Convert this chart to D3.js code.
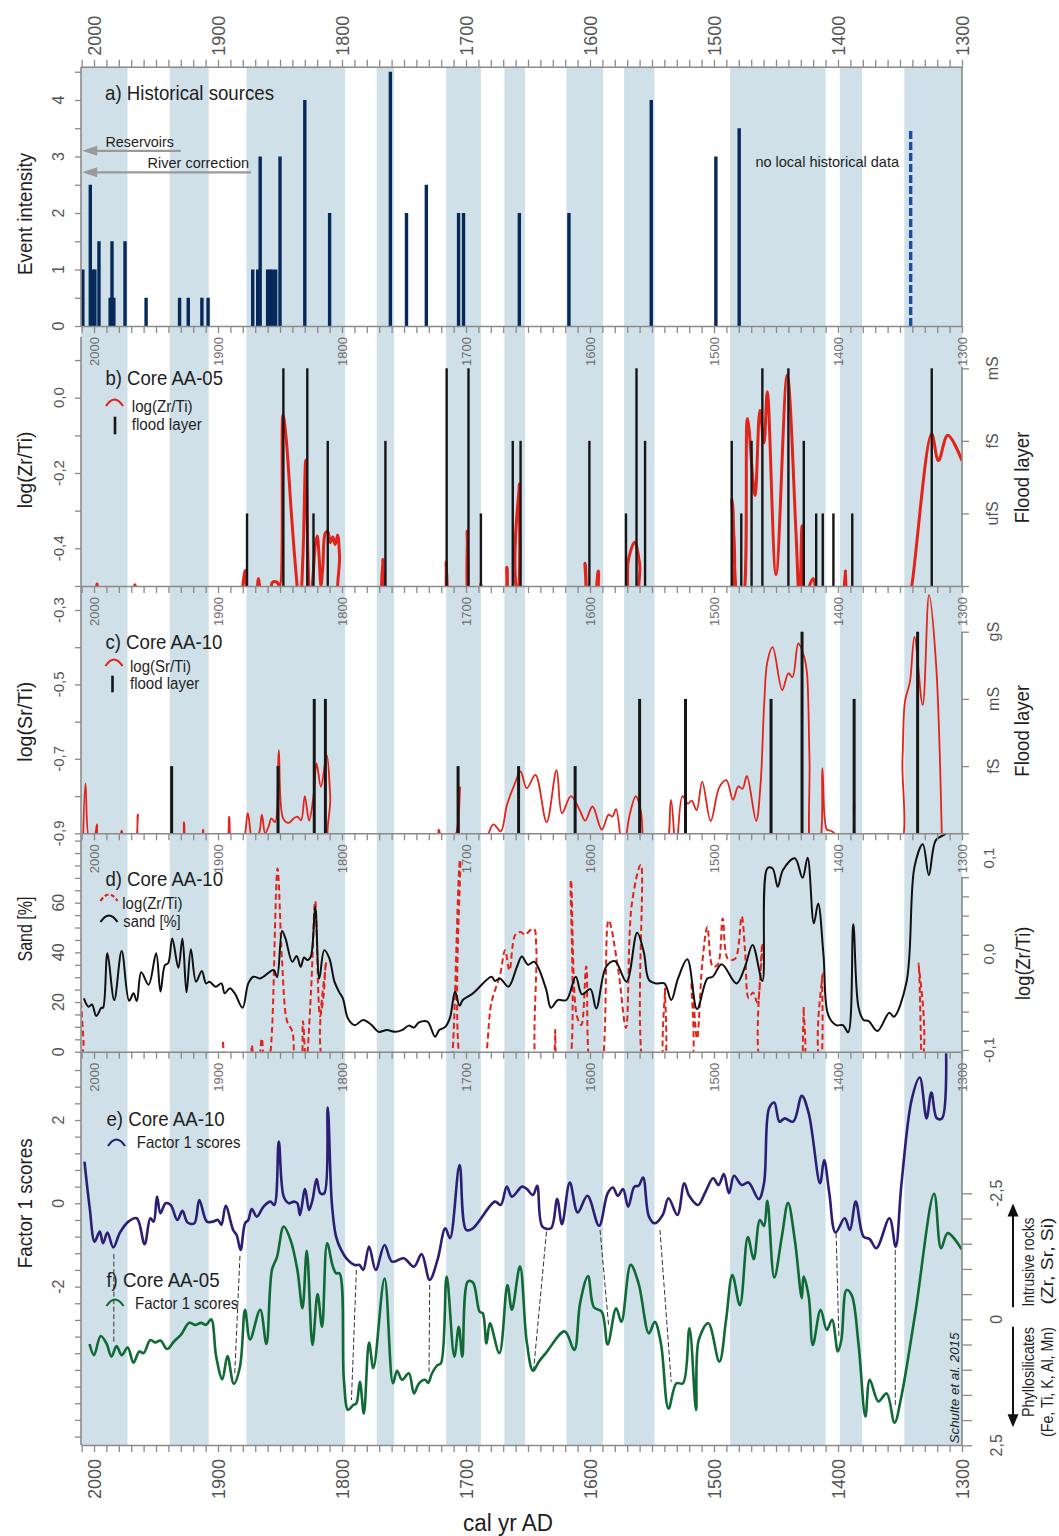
<!DOCTYPE html>
<html><head><meta charset="utf-8">
<script src="https://cdn.jsdelivr.net/npm/d3@7"></script>
<style>body{margin:0;background:#fff}svg{display:block}text{font-family:"Liberation Sans",Arial,sans-serif}</style>
</head><body><svg id="c" width="1059" height="1536"></svg>
<script>
// ---------------- DATA ----------------
const bands = [[2010.5,1973],[1939,1907.5],[1877,1797.5],[1772,1758],[1716,1688],[1669,1652.5],[1619,1589.5],[1572.5,1548],[1487,1410],[1398.5,1380.5],[1346.5,1300]];
const centuries = [2000,1900,1800,1700,1600,1500,1400,1300];

// a) historical events
const eventYears = [2009,2003,2000.6,1999.3,1996,1987,1985.5,1984,1975,1958,1931,1924,1913,1908,1872,1868,1866,1860,1858,1856,1853.5,1850,1830,1810,1761,1748,1732,1706,1702,1657,1617,1550.6,1498.5,1479.7];
const eventIntensity = [1,2.5,1,1,1.5,0.5,1.5,0.5,1.5,0.5,0.5,0.5,0.5,0.5,1,1,3,1,1,1,1,3,4,2,4.5,2,2.5,2,2,2,2,4,3,3.5];
const uncertainEventYears = [1341.4];
const uncertainEventIntensity = [3.5];

// b) Core AA-05 log(Zr/Ti) and flood layers (1=ufS,2=fS,3=mS)
const zrTiB = [[2011,-0.56],[2000,-0.56],[1997.5,-0.495],[1995,-0.56],[1970,-0.56],[1967,-0.497],[1964,-0.56],
[1884,-0.56],[1881,-0.52],[1878,-0.459],[1875.5,-0.53],[1870,-0.53],[1867.4,-0.48],[1864.5,-0.53],[1858,-0.51],[1856,-0.49],[1852.5,-0.49],[1850.3,-0.5],[1847.6,-0.045],[1845,-0.11],[1841,-0.3],[1837.5,-0.45],[1834,-0.56],[1831.5,-0.42],[1829.3,-0.166],[1827.5,-0.42],[1826,-0.56],[1823.5,-0.48],[1821.5,-0.39],[1820,-0.367],[1818.5,-0.42],[1817,-0.5],[1815.5,-0.45],[1813.5,-0.36],[1811.5,-0.355],[1809.5,-0.385],[1807.5,-0.37],[1805.5,-0.39],[1803.5,-0.365],[1802,-0.42],[1800.5,-0.56],
[1770,-0.56],[1767,-0.43],[1764.3,-0.56],[1719,-0.56],[1716,-0.437],[1713.3,-0.56],[1702,-0.56],[1699,-0.354],[1696.3,-0.56],[1690,-0.56],[1688,-0.495],[1686,-0.56],[1670,-0.56],[1667,-0.45],[1664.5,-0.56],[1660,-0.56],[1657,-0.229],[1653.8,-0.56],
[1607,-0.56],[1604,-0.44],[1601,-0.56],[1596,-0.53],[1593.3,-0.46],[1590.5,-0.56],
[1573,-0.56],[1569,-0.43],[1564,-0.384],[1560,-0.44],[1557,-0.56],
[1491,-0.56],[1485.5,-0.269],[1480,-0.56],[1477.5,-0.56],[1473,-0.055],[1467,-0.26],[1463,-0.033],[1459.7,-0.12],[1457,0.016],[1450,-0.47],[1441,0.06],[1434,-0.35],[1431,-0.56],[1429,-0.34],[1426.5,-0.56],[1423,-0.5],[1420,-0.48],[1417,-0.53],[1414,-0.56],
[1396,-0.56],[1394,-0.46],[1392,-0.56],
[1344,-0.56],[1340.5,-0.5],[1324.5,-0.096],[1319,-0.167],[1311.5,-0.10],[1300,-0.167]];
const floodB = [[1876.6,1],[1847.3,3],[1828,3],[1823,1],[1811.5,2],[1765,2],[1715.6,3],[1698,3],[1688,1],[1662.3,2],[1656,2],[1600.5,2],[1571,1],[1562.5,3],[1555.6,2],[1485.7,2],[1478,1],[1469.7,2],[1461,3],[1440,3],[1427.6,2],[1417.6,1],[1412.3,1],[1403.7,1],[1388.5,1],[1324.4,3]];
const floodBLabels = ["", "ufS", "fS", "mS"];

// c) Core AA-10 log(Sr/Ti) and flood layers (1=fS,2=mS,3=gS)
const srTiC = [[2009,-0.95],[2006.9,-0.766],[2003.6,-0.92],[1999,-0.9],[1997.6,-0.876],[1996,-0.92],[1980,-0.92],[1977.7,-0.893],[1975.5,-0.92],[1967,-0.92],[1964.7,-0.849],[1962.5,-0.93],[1930,-0.93],[1927.4,-0.87],[1925,-0.93],[1914,-0.93],[1912,-0.89],[1910.5,-0.93],[1894,-0.93],[1891,-0.855],[1888.5,-0.93],[1880,-0.92],[1876,-0.846],[1872,-0.92],[1867,-0.9],[1864.6,-0.85],[1862,-0.9],[1859,-0.88],[1857,-0.86],[1854,-0.87],[1851,-0.676],[1847.5,-0.86],[1843,-0.872],[1839,-0.86],[1836,-0.855],[1833,-0.865],[1830,-0.80],[1826.6,-0.866],[1823,-0.8],[1820.5,-0.712],[1817,-0.775],[1812.3,-0.69],[1809.5,-0.8],[1807.4,-0.95],
[1725,-0.95],[1722,-0.89],[1719,-0.92],[1712,-0.91],[1708,-0.9],[1705,-0.775],[1702.5,-0.95],[1686,-0.93],[1678,-0.876],[1672,-0.895],[1667,-0.824],[1661,-0.77],[1656,-0.734],[1651,-0.779],[1644,-0.743],[1635,-0.87],[1627,-0.73],[1622.6,-0.846],[1615.4,-0.80],[1608,-0.84],[1603.8,-0.866],[1598,-0.828],[1590.5,-0.89],[1585,-0.85],[1582,-0.855],[1579,-0.835],[1573.4,-0.95],[1568,-0.85],[1563,-0.80],[1559,-0.84],[1554,-0.95],[1540,-0.95],[1534.7,-0.81],[1530.6,-0.95],[1525.4,-0.80],[1521,-0.82],[1518,-0.812],[1514,-0.838],[1509.5,-0.761],[1502.7,-0.867],[1495.7,-0.776],[1490,-0.757],[1484.7,-0.81],[1480.4,-0.774],[1477,-0.78],[1473.5,-0.746],[1466,-0.867],[1462.5,-0.77],[1459.5,-0.55],[1457,-0.44],[1452.7,-0.40],[1445,-0.515],[1440,-0.47],[1436.7,-0.48],[1432,-0.39],[1427,-0.43],[1425,-0.47],[1423,-0.7],[1421,-0.95],[1415,-0.93],[1412.6,-0.725],[1409,-0.89],[1406,-0.893],[1403,-0.9],[1401.5,-0.95],[1390,-0.95],[1387,-0.82],[1383,-0.95],[1352,-0.95],[1348,-0.7],[1346,-0.546],[1342,-0.493],[1338.3,-0.372],[1331.7,-0.555],[1326.6,-0.26],[1321,-0.44],[1316,-0.95]];
const floodC = [[1937.4,1],[1851.6,1],[1822.4,2],[1813.4,2],[1706.4,1],[1657.6,1],[1612,1],[1560,2],[1523,2],[1454,2],[1429,3],[1387,2],[1335.8,3]];
const floodCLabels = ["", "fS", "mS", "gS"];

// d) Core AA-10 sand [%] and log(Zr/Ti)
const sandD = [[2008.2,21.5],[2004.4,18.1],[2001.7,19],[1998.2,14.4],[1994,17.7],[1992.7,17.7],[1989.2,39.6],[1983.7,20.8],[1977.7,40.5],[1971.7,20.5],[1968.2,23.5],[1965.5,20.4],[1961.9,32],[1956,27],[1949.9,39.6],[1946.4,24.2],[1942.8,34.9],[1940.2,35.6],[1936.9,45.6],[1932,33.8],[1928.7,45.6],[1925.4,23.9],[1921.9,41.3],[1917.7,28.2],[1913.1,32.5],[1909.6,27.5],[1906.9,28.2],[1902,26.2],[1897.3,27.5],[1894.6,23.5],[1890.6,25.5],[1886.5,23.5],[1880.2,17.7],[1875.6,27.5],[1871.5,30.2],[1866,29.5],[1855.2,32.9],[1852.4,30],[1848.3,48.6],[1845.6,45.6],[1840.1,36.2],[1836.6,38.5],[1833.3,34.2],[1830.6,37.9],[1827.9,36.9],[1825.2,38.3],[1821.6,58.4],[1818.3,29.5],[1814.3,40.9],[1810.2,37.6],[1806.1,28.2],[1802.5,24.2],[1799.3,21.5],[1795.2,13.4],[1789.7,10.7],[1782.9,12.8],[1776.1,10.7],[1770.6,8],[1763.8,8.7],[1757,8],[1751.6,8.7],[1746.1,10.5],[1742,9.7],[1737.9,11.8],[1731.1,12.1],[1724.9,6],[1721.6,8.7],[1716.7,10],[1712.9,13.7],[1708.8,24.2],[1705.2,18.5],[1702.6,20.8],[1694.4,23.5],[1679.4,30.2],[1676.7,28.5],[1672.6,29.5],[1665.8,26.2],[1658.9,34.2],[1655,38.3],[1650,35],[1645,36.2],[1635.6,25.5],[1631.5,17.7],[1626,20.8],[1619,20.8],[1611.5,30.2],[1606.5,23.1],[1599.7,25.2],[1595,17.4],[1587,34.2],[1580,36.5],[1570.6,28.2],[1562,47.9],[1556.7,40.3],[1552.5,28.9],[1547,27.5],[1540,27.5],[1534.5,20.8],[1529,29.5],[1521.5,37.2],[1513.7,17.2],[1505.4,29.5],[1501,30.2],[1493.8,35.2],[1481.9,27.5],[1475,34.2],[1468.9,43],[1461,28.5],[1457,73.8],[1452.8,73.8],[1448.6,66.4],[1444.4,73.2],[1434.8,77.9],[1428.6,70],[1424.5,78.1],[1419.5,51.7],[1416,59.7],[1411.7,38.9],[1407.9,14.8],[1401.5,10.7],[1396,10.7],[1391.8,7.8],[1387.7,51.3],[1383.5,18],[1379.4,12.8],[1375.2,12.3],[1368.3,8.3],[1358.6,15.7],[1355,14.1],[1344.7,28.2],[1338.3,74.5],[1331.6,83.5],[1326.7,71.1],[1321.1,85.2],[1312.8,88],[1308,95]];
const zrTiD = [[2010.5,-0.05],[2008.5,-0.09],[2006.5,-0.13],[1899,-0.13],[1896,-0.09],[1893,-0.13],[1875.5,-0.13],[1872.8,-0.095],[1870,-0.13],[1867,-0.115],[1864.7,-0.088],[1862,-0.13],[1858.5,-0.11],[1856.5,-0.081],[1852,0.089],[1848.4,-0.006],[1844.3,-0.07],[1840,-0.081],[1837,-0.13],[1834,-0.13],[1831.5,-0.07],[1829,-0.115],[1825,-0.039],[1821.6,0.055],[1817.7,-0.065],[1815,-0.045],[1812.9,-0.008],[1810,-0.13],
[1713,-0.13],[1710.7,-0.1],[1704.8,0.098],[1701,-0.13],[1689,-0.13],[1679.4,-0.05],[1672.6,-0.022],[1668.5,0.004],[1665,-0.017],[1660.3,0.02],[1656,0.023],[1652.4,0.02],[1648,0.025],[1645,0.026],[1643.3,0.005],[1640.6,-0.13],[1630.5,-0.13],[1628,-0.079],[1626.5,-0.13],[1619,-0.13],[1615.4,0.077],[1610.7,-0.064],[1607,-0.074],[1603,-0.013],[1598,-0.13],[1592.7,-0.13],[1585,0.035],[1577.4,-0.015],[1571,-0.077],[1566.4,0.051],[1559,0.093],[1554,-0.13],[1542.3,-0.13],[1539.5,-0.036],[1537.5,-0.13],[1520.6,-0.13],[1518,-0.029],[1513.7,-0.088],[1509.5,-0.01],[1505.4,0.028],[1501,-0.013],[1497,-0.011],[1493,0.037],[1488.8,-0.005],[1483,-0.005],[1477.7,0.039],[1475,0.004],[1472,-0.046],[1468.5,-0.04],[1465,-0.051],[1461,0.011],[1459,-0.13],[1430.6,-0.13],[1427.8,-0.055],[1425.3,-0.13],[1416.7,-0.13],[1412.6,-0.02],[1409.5,-0.13],[1337.5,-0.13],[1335,-0.01],[1332.5,-0.13]];

// e) Core AA-10 Factor 1 scores (left axis)
const factorE = [[2007.7,1.0],[2003.6,-0.08],[1999.5,-0.92],[1995.4,-0.68],[1992.7,-0.96],[1989.2,-0.70],[1984.5,-1.06],[1979,-0.70],[1972.3,-0.44],[1965.5,-0.36],[1959.2,-0.98],[1954.6,-0.36],[1951.9,-0.44],[1949.2,0.16],[1946.4,-0.24],[1942.3,0],[1938.2,-0.04],[1932.8,-0.4],[1928.7,-0.18],[1924.6,-0.46],[1919.1,-0.48],[1915.1,0.08],[1909,-0.44],[1904.2,-0.44],[1900,-0.4],[1897.3,-0.52],[1893.8,-0.06],[1887.8,-0.64],[1885,-0.76],[1881.8,-1.12],[1878.2,-0.48],[1875.6,-0.4],[1872.8,-0.14],[1868.7,-0.32],[1863.3,-0.08],[1857.8,0.04],[1854.6,-0.04],[1851,1.48],[1847,0.16],[1842.8,0],[1838.8,0.04],[1836,0],[1833.9,-0.28],[1829.8,0.34],[1826.6,-0.16],[1823.8,0.08],[1820.5,0.58],[1817.5,0.24],[1814.3,0.24],[1811.5,2.3],[1808.2,0],[1804.8,-0.8],[1800.7,-1.12],[1796.5,-1.32],[1789.7,-1.48],[1786,-1.48],[1782.9,-1.6],[1778.2,-1.04],[1772.8,-1.6],[1765.7,-1.0],[1759.7,-1.4],[1750.2,-1.32],[1742,-1.52],[1735.8,-1.22],[1729.3,-1.84],[1723,-1.36],[1716.7,-0.6],[1712.9,-0.84],[1705.2,0.92],[1699.8,-0.64],[1694.4,-0.6],[1676.7,0.04],[1672,-0.04],[1667.1,0.4],[1663,0.16],[1654.8,0.4],[1650.9,0.34],[1646,0.2],[1642.6,0.42],[1638.4,-0.56],[1631.5,-0.6],[1626.5,0.1],[1622.6,-0.5],[1616.3,0.5],[1609.9,-0.22],[1602.1,0.18],[1592.7,-0.54],[1585.8,0.24],[1581.6,0.38],[1577.5,0.18],[1573.4,0.34],[1569.2,-0.08],[1564.2,0.4],[1560.8,0.42],[1557.2,0.62],[1552.5,-0.32],[1547.8,-0.48],[1541.4,-0.28],[1536.7,0.12],[1529.5,-0.28],[1524,0.48],[1520,0.18],[1512.9,-0.04],[1506.8,0.28],[1500.7,0.6],[1496.3,0.44],[1492.1,0.7],[1487.9,0.24],[1483.8,0.66],[1477.7,0.44],[1472.2,0.5],[1463.9,0.1],[1459.7,0.48],[1455.6,2.28],[1451.4,2.42],[1447.2,1.96],[1443,2.04],[1436.1,1.96],[1429.2,2.58],[1423.6,2.16],[1414.5,0.48],[1411.2,1.04],[1407,0.24],[1402,-0.7],[1394.6,-0.36],[1390.4,-0.64],[1385.7,0.04],[1379.4,-0.8],[1374.4,-0.86],[1369.1,-1.08],[1358.5,-0.36],[1353.5,-1.04],[1348.9,0.44],[1340.5,2.5],[1334.1,3.02],[1328.6,2.04],[1324.7,2.66],[1320.3,2.04],[1316.1,2.04],[1312.8,3.6]];

// f) Core AA-05 Factor 1 scores (right axis, inverted)
const factorF = [[2003.6,0.49],[2000,0.71],[1994.6,0.33],[1990,0.48],[1985.9,0.74],[1981.8,0.53],[1977.7,0.71],[1972.8,0.56],[1968.2,0.86],[1963.5,0.64],[1960,0.67],[1954.6,0.41],[1950.5,0.46],[1946.4,0.42],[1941,0.59],[1935.5,0.44],[1930,0.31],[1923.2,0.07],[1918.3,0.11],[1913.7,0.07],[1909.6,0.11],[1905.5,0],[1901.5,0.74],[1896.5,1.19],[1892.4,0.73],[1887.3,1.28],[1882.3,0.94],[1878.2,-0.19],[1874.2,0.4],[1866,-0.19],[1861,0.49],[1856.5,-0.98],[1852.4,-1.24],[1847,-1.84],[1841.5,-1.57],[1836,-0.98],[1831.9,-0.22],[1828.4,-1.36],[1823.8,0.51],[1819.7,-0.5],[1816.1,0.15],[1812,-1.51],[1807.4,-1.05],[1804.7,-0.91],[1802,-0.91],[1798.5,1.2],[1795.1,1.8],[1791,1.7],[1788.5,1.67],[1785.6,1.24],[1782.4,1.87],[1778.2,0.46],[1774.7,0.97],[1765.7,-0.81],[1758.9,1.27],[1755.6,1.02],[1751.6,1.2],[1746.1,1.07],[1742,1.47],[1737.9,1.27],[1733,1.2],[1730.5,1.26],[1727.6,1.08],[1723,0.91],[1720.2,0.87],[1715.6,-0.85],[1709.4,0.74],[1705.8,0.15],[1703,0.74],[1698.5,-0.75],[1694.4,-0.73],[1689,-0.15],[1686.5,-0.12],[1683.5,0.48],[1680.7,0.08],[1673.1,0.67],[1666.6,-0.68],[1663,-0.19],[1656.5,-1.05],[1651,0.45],[1646,1.02],[1641.2,0.84],[1635.6,0.67],[1620.4,0.24],[1612.7,0.61],[1608,-0.32],[1601.6,-0.86],[1596.9,-0.24],[1590.5,-0.15],[1585.8,0.5],[1578.9,-0.22],[1574.7,0.05],[1567.2,-1.08],[1560.8,-0.71],[1552.5,0.28],[1547.8,0.05],[1542.8,0.48],[1536.7,1.77],[1530.3,1.27],[1525,1.27],[1519.8,0.18],[1514.5,1.8],[1512.3,0.41],[1504.6,0.08],[1495.7,0.84],[1490.2,0],[1485.2,-0.88],[1479.1,-0.28],[1472.7,-1.63],[1468,-1.19],[1463,-1.97],[1459.7,-1.85],[1457,-2.35],[1451.4,-0.83],[1445.3,-1.64],[1440.3,-2.31],[1434.8,-1.57],[1429.2,-0.42],[1427.8,-0.85],[1423.6,-0.45],[1420.3,0.51],[1414,-0.19],[1409,0.21],[1404.8,0.01],[1400.1,0.64],[1397.3,0.41],[1393.1,-0.58],[1389,-0.48],[1383.5,0.48],[1377.9,1.93],[1374.4,1.2],[1367.4,1.63],[1360.8,1.47],[1354.4,2.05],[1348.9,1.53],[1337.7,-0.12],[1322.5,-2.49],[1316.9,-1.41],[1311.5,-1.71],[1300.3,-1.39]];

// dashed tie lines between e and f: [year on e, score e, year on f, score f]
const tieLines = [[1984,-1.22,1984,0.48],[1882.3,-1.26,1886.5,1.07],[1788.4,-1.6,1792.4,1.6],[1729.3,-1.96,1729.8,1.04],[1635.1,-0.68,1645.5,1.01],[1591.9,-0.64,1584.9,0.15],[1543.6,-0.64,1534.5,1.24],[1401.5,-0.72,1399.3,0.34],[1353.8,-1.12,1353.8,1.7]];

// ---------------- LAYOUT ----------------
const svg = d3.select("#c");
const X0 = 81, X1 = 962;
const x = d3.scaleLinear().domain([2010.5,1300]).range([X0,X1]);
const P = {a:[66.7,326], b:[336.7,586], c:[586,833.3], d:[833.3,1051.7], e:[1051.7,1445]};
const yA = d3.scaleLinear().domain([0,4]).range([326,100]);
const yB = d3.scaleLinear().domain([0,-0.4]).range([397.7,548.3]);
const yBl = d3.scaleLinear().domain([0,3]).range([586,368.3]);
const yC = d3.scaleLinear().domain([-0.3,-0.9]).range([610,833.3]);
const yCl = d3.scaleLinear().domain([0,3]).range([833.3,631.7]);
const yD = d3.scaleLinear().domain([0,60]).range([1051.7,902.7]);
const yDr = d3.scaleLinear().domain([0,-0.1]).range([954,1050]);
const yE = d3.scaleLinear().domain([0,2]).range([1203.3,1120]);
const yF = d3.scaleLinear().domain([0,2.5]).range([1319.3,1445.3]);

const AX = "#8a8a8a", LBL = "#555", TXT = "#1e1e1e";
const RED = "#e2231a", NAVY = "#2a1f74", GREEN = "#0f6a35";
const defs = svg.append("defs");
Object.entries(P).forEach(([k,[t,b]]) => {
  defs.append("clipPath").attr("id","clip"+k).append("rect")
    .attr("x",X0).attr("y",t).attr("width",X1-X0).attr("height",b-t);
});
defs.append("clipPath").attr("id","clipbwide").append("rect").attr("x",X0).attr("y",326).attr("width",X1-X0).attr("height",260);

// bands
svg.append("g").selectAll("rect").data(bands).join("rect")
  .attr("x",d=>x(d[0])).attr("width",d=>x(d[1])-x(d[0]))
  .attr("y",P.a[0]).attr("height",P.e[1]-P.a[0]).attr("fill","#cfe0e8");

// helpers
function txt(g, px, py, s, o={}) {
  const t = g.append("text").attr("x",px).attr("y",py).text(s)
    .attr("font-size",o.size||15).attr("fill",o.fill||TXT)
    .attr("text-anchor",o.anchor||"start");
  if (o.len) t.attr("textLength",o.len).attr("lengthAdjust","spacingAndGlyphs");
  if (o.italic) t.attr("font-style","italic");
  return t;
}
function rtxt(g, cx, cy, s, o={}) {
  const t = g.append("text").attr("transform",`translate(${cx},${cy}) rotate(-90)`)
    .attr("dy",o.dy||"0.35em").text(s)
    .attr("font-size",o.size||15).attr("fill",o.fill||TXT)
    .attr("text-anchor",o.anchor||"middle");
  if (o.len) t.attr("textLength",o.len).attr("lengthAdjust","spacingAndGlyphs");
  if (o.italic) t.attr("font-style","italic");
  return t;
}
const curve = d3.curveCatmullRom.alpha(0.5);
function drawLine(data, ys, clip, color, w, dash) {
  const p = svg.append("path").datum(data)
    .attr("d", d3.line().x(d=>x(d[0])).y(d=>ys(d[1])).curve(curve))
    .attr("fill","none").attr("stroke",color).attr("stroke-width",w)
    .attr("stroke-linejoin","round").attr("clip-path",`url(#${clip})`);
  if (dash) p.attr("stroke-dasharray",dash);
  return p;
}
function vline(g, px, y1, y2, color, w) {
  return g.append("line").attr("x1",px).attr("x2",px).attr("y1",y1).attr("y2",y2)
    .attr("stroke",color).attr("stroke-width",w);
}
function caret(g, x0, y0, color, dash) {
  const p = g.append("path").attr("d",`M${x0},${y0} Q${x0+8.5},${y0-13} ${x0+17},${y0}`)
    .attr("fill","none").attr("stroke",color).attr("stroke-width",2.2);
  if (dash) p.attr("stroke-dasharray",dash);
}

// ---------------- PANEL a ----------------
const ga = svg.append("g");
const events = eventYears.map((yr,i)=>({yr, v:eventIntensity[i]}));
ga.selectAll("rect.ev").data(events).join("rect").attr("class","ev")
  .attr("x",d=>x(d.yr)-1.7).attr("width",3.4)
  .attr("y",d=>yA(d.v)).attr("height",d=>yA(0)-yA(d.v)).attr("fill","#06295a");
uncertainEventYears.forEach((yr,i)=>{
  vline(ga, x(yr), yA(0), yA(uncertainEventIntensity[i]), "#1b4c9e", 3.4).attr("stroke-dasharray","8,3");
});
// annotation arrows
function arrowH(g, fromYr, toYr, level) {
  const y0 = yA(level), xs = x(fromYr), xe = x(toYr);
  g.append("line").attr("x1",xs).attr("x2",xe+12).attr("y1",y0).attr("y2",y0).attr("stroke","#9a9a9a").attr("stroke-width",2.2);
  g.append("path").attr("d",`M${xe},${y0} L${xe+15},${y0-5} L${xe+15},${y0+5} Z`).attr("fill","#9a9a9a");
}
arrowH(ga, 1930, 2009.5, 3.1);
arrowH(ga, 1873.4, 2009.5, 2.72);
txt(ga, 105, 99.5, "a) Historical sources", {size:21, len:169});
txt(ga, 105.4, 146.7, "Reservoirs", {size:15, len:68.6});
txt(ga, 147.6, 168.3, "River correction", {size:15, len:101.4});
txt(ga, 755.4, 166.7, "no local historical data", {size:15, len:143.6});
rtxt(ga, 24.5, 214, "Event intensity", {size:21, len:122});

// ---------------- PANEL b ----------------
drawLine(zrTiB, yB, "clipbwide", RED, 3);
const gb = svg.append("g");
floodB.forEach(d => vline(gb, x(d[0]), yBl(0), yBl(d[1]), "#161616", 2.4));
txt(gb, 105.4, 385, "b) Core AA-05", {size:21, len:117.6});
caret(gb, 106, 406, RED);
txt(gb, 131.8, 412.3, "log(Zr/Ti)", {size:16, len:60.8});
vline(gb, 115, 416.7, 434.3, "#161616", 2.6);
txt(gb, 131.8, 430, "flood layer", {size:16, len:69.9});
rtxt(gb, 24.5, 470, "log(Zr/Ti)", {size:21, len:76.7});
rtxt(gb, 1021.7, 477.5, "Flood layer", {size:21, len:91.7});

// ---------------- PANEL c ----------------
drawLine(srTiC, yC, "clipc", RED, 1.8);
const gc = svg.append("g");
floodC.forEach(d => vline(gc, x(d[0]), yCl(0), yCl(d[1]), "#161616", 3));
txt(gc, 105.4, 649, "c) Core AA-10", {size:21, len:117});
caret(gc, 105.5, 666, RED);
txt(gc, 130, 672.3, "log(Sr/Ti)", {size:16, len:61});
vline(gc, 112.5, 675.7, 692.3, "#161616", 2.6);
txt(gc, 130, 689, "flood layer", {size:16, len:69.3});
rtxt(gc, 24.5, 721.7, "log(Sr/Ti)", {size:21, len:80});
rtxt(gc, 1021.7, 730.8, "Flood layer", {size:21, len:91.7});

// ---------------- PANEL d ----------------
drawLine(zrTiD, yDr, "clipd", RED, 2, "6,3.5");
drawLine(sandD, yD, "clipd", "#111", 2);
const gd = svg.append("g");
txt(gd, 105.4, 885.7, "d) Core AA-10", {size:21, len:117.6});
caret(gd, 100.5, 901, RED, "4,2.5");
txt(gd, 122.3, 909, "log(Zr/Ti)", {size:16, len:60.1});
caret(gd, 100.5, 922, "#111");
txt(gd, 123.3, 926.7, "sand [%]", {size:16, len:57.4});
rtxt(gd, 24.5, 929, "Sand [%]", {size:21, len:65});
rtxt(gd, 1023, 963.3, "log(Zr/Ti)", {size:21, len:73.3});

// ---------------- PANEL e / f ----------------
const ge = svg.append("g");
tieLines.forEach(t => {
  ge.append("line").attr("x1",x(t[0])).attr("y1",yE(t[1])).attr("x2",x(t[2])).attr("y2",yF(t[3]))
    .attr("stroke","#333").attr("stroke-width",1).attr("stroke-dasharray","5,2.5");
});
drawLine(factorE, yE, "clipe", NAVY, 2.6);
drawLine(factorF, yF, "clipe", GREEN, 2.6);
txt(ge, 106.4, 1126, "e) Core AA-10", {size:21, len:118.3});
caret(ge, 108, 1146, NAVY);
txt(ge, 136.8, 1148.3, "Factor 1 scores", {size:16.5, len:103.7});
txt(ge, 106.4, 1287.3, "f) Core AA-05", {size:21, len:113.2});
caret(ge, 106.5, 1306, GREEN);
txt(ge, 135.1, 1309.3, "Factor 1 scores", {size:16.5, len:103.1});
rtxt(ge, 24.5, 1203.3, "Factor 1 scores", {size:21, len:130});
// right side arrows and labels
function arrowV(g, px, yFrom, yTo) {
  const dir = yTo < yFrom ? -1 : 1;
  g.append("line").attr("x1",px).attr("x2",px).attr("y1",yFrom).attr("y2",yTo-dir*10).attr("stroke","#111").attr("stroke-width",2);
  g.append("path").attr("d",`M${px},${yTo} L${px-5.5},${yTo-dir*13} L${px+5.5},${yTo-dir*13} Z`).attr("fill","#111");
}
arrowV(ge, 1013, yF(-0.24), yF(-2.3));
arrowV(ge, 1013, yF(0.15), yF(2.14));
rtxt(ge, 1028, 1262, "Intrusive rocks", {size:16.5, len:89});
rtxt(ge, 1047, 1261, "(Zr, Sr, Si)", {size:16.5, len:87});
rtxt(ge, 1028, 1372, "Phyllosilicates", {size:16.5, len:90});
rtxt(ge, 1047, 1382, "(Fe, Ti, K, Al, Mn)", {size:16.5, len:110});
rtxt(ge, 955, 1388, "Schulte et al. 2015", {size:12, len:111, italic:true});

// ---------------- AXES ----------------
const decades = d3.range(1300, 2011, 10);
function styleAxis(g) {
  g.selectAll(".tick line").attr("stroke",AX).attr("stroke-width",1.3);
  g.selectAll(".domain").attr("stroke",AX).attr("stroke-width",1.6);
  g.attr("font-family",null).attr("font-size",null);
}
// top axis
const gTop = svg.append("g").attr("transform",`translate(0,${P.a[0]})`)
  .call(d3.axisTop(x).tickValues(decades).tickSize(7).tickSizeOuter(0).tickFormat(d=>d%100===0?d:""));
styleAxis(gTop);
gTop.selectAll("text").attr("transform","rotate(-90)").attr("x",11).attr("y",0).attr("dy","0.36em")
  .style("text-anchor","start").attr("font-size",18).attr("fill",LBL);
// bottom axes of panels a..d (ticks only) and e (labelled)
[P.a[1], P.b[1], P.c[1], P.d[1]].forEach(yy => {
  const g = svg.append("g").attr("transform",`translate(0,${yy})`)
    .call(d3.axisBottom(x).tickValues(decades).tickSize(7).tickSizeOuter(0).tickFormat(""));
  styleAxis(g);
});
const gBot = svg.append("g").attr("transform",`translate(0,${P.e[1]})`)
  .call(d3.axisBottom(x).tickValues(decades).tickSize(7).tickSizeOuter(0).tickFormat(d=>d%100===0?d:""));
styleAxis(gBot);
gBot.selectAll("text").attr("transform","rotate(-90)").attr("x",-14).attr("y",0).attr("dy","0.36em")
  .style("text-anchor","end").attr("font-size",18).attr("fill",LBL);
txt(svg, 508, 1531, "cal yr AD", {size:23, anchor:"middle", len:90});

// inner century labels for panels b..e
const gInner = svg.append("g");
[P.a[1], P.b[1], P.c[1], P.d[1]].forEach(yy => {
  centuries.forEach(c => rtxt(gInner, x(c), yy+40, String(c), {size:13, anchor:"start", fill:"#707070"}));
});

// left axes
const fmtC = v => (Math.abs(v)<1e-9 ? "0,0" : v.toFixed(1).replace(".",",").replace("\u2212","-"));
function leftAxis(scale, ticks, labels, fmt, top, bottom, size) {
  const g = svg.append("g").attr("transform",`translate(${X0},0)`)
    .call(d3.axisLeft(scale).tickValues(ticks).tickSize(6).tickSizeOuter(0).tickFormat(""));
  g.select(".domain").remove();
  styleAxis(g);
  g.append("line").attr("y1",top).attr("y2",bottom).attr("stroke",AX).attr("stroke-width",1.6);
  labels.forEach(v => rtxt(g, -22.5, scale(v), fmt(v), {size:size||15, fill:LBL}));
}
leftAxis(yA, d3.range(0,10).map(i=>i/2), [0,1,2,3,4], v=>String(v), P.a[0], P.a[1], 16);
leftAxis(yB, d3.range(-5,2).map(i=>i/10), [0,-0.2,-0.4], fmtC, P.b[0], P.b[1]);
leftAxis(yC, d3.range(-9,-2).map(i=>i/10), [-0.3,-0.5,-0.7,-0.9], fmtC, P.c[0], P.c[1]);
leftAxis(yD, d3.range(0,18).map(i=>i*5), [0,20,40,60], v=>String(v), P.d[0], P.d[1], 16);
leftAxis(yE, d3.range(-14,9).map(i=>i*0.4), [2,0,-2], v=>String(v), P.e[0], P.e[1], 16);

// right axes
function rightAxis(scale, ticks, labels, top, bottom, off, tsize, size) {
  const g = svg.append("g").attr("transform",`translate(${X1},0)`)
    .call(d3.axisRight(scale).tickValues(ticks).tickSize(tsize||7).tickSizeOuter(0).tickFormat(""));
  g.select(".domain").remove();
  styleAxis(g);
  g.append("line").attr("y1",top).attr("y2",bottom).attr("stroke",AX).attr("stroke-width",1.6);
  labels.forEach(([v,s]) => rtxt(g, off, scale(v), s, {size:size||16, fill:LBL}));
}
// panel a right border
svg.append("line").attr("x1",X1).attr("x2",X1).attr("y1",P.a[0]).attr("y2",P.a[1]).attr("stroke",AX).attr("stroke-width",1.6);
rightAxis(yBl, [0,1,2,3], [[1,floodBLabels[1]],[2,floodBLabels[2]],[3,floodBLabels[3]]], 366.7, P.b[1], 30.5);
rightAxis(yCl, [0,1,2,3], [[1,floodCLabels[1]],[2,floodCLabels[2]],[3,floodCLabels[3]]], 631.7, P.c[1], 31.5);
rightAxis(yDr, d3.range(-10,9,2).map(i=>i/100), [[0.1,"0,1"],[0,"0,0"],[-0.1,"-0,1"]], 876.7, P.d[1], 27, 7, 15);
rightAxis(yF, d3.range(-5,6).map(i=>i/2), [[-2.5,"-2,5"],[0,"0"],[2.5,"2,5"]], P.e[0], P.e[1], 34.7, 10, 16);
</script></body></html>
